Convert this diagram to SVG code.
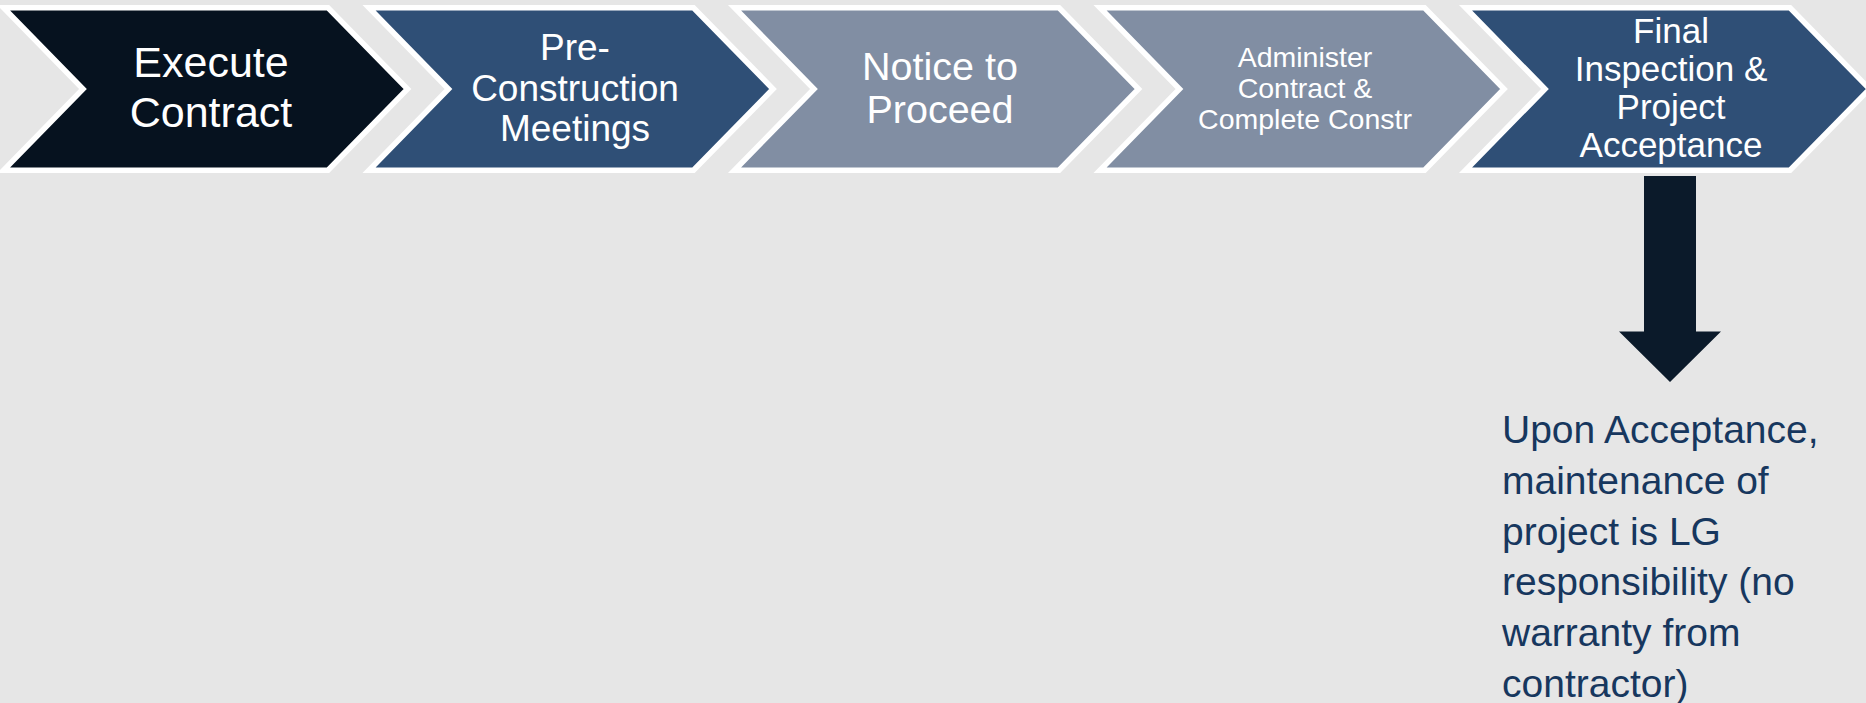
<svg xmlns="http://www.w3.org/2000/svg" width="1866" height="703" viewBox="0 0 1866 703">
<defs>
<style>
.bg{fill:#E6E6E6}
.chev{stroke:#FFFFFF;stroke-width:5.5;stroke-linejoin:miter}
.dark{fill:#06121F}
.mid{fill:#2F4F76}
.light{fill:#818EA3}
.t{font-family:"Liberation Sans",Arial,sans-serif;fill:#FFFFFF;text-anchor:middle}
.note{font-family:"Liberation Sans",Arial,sans-serif;fill:#17375E;font-size:39px}
</style>
<path id="chevShape" d="M -6.5,7.75 L 318,7.75 L 397.5,89 L 318,170.25 L -6.5,170.25 L 73,89 Z"/>
</defs>
<rect class="bg" x="0" y="0" width="1866" height="703"/>
<g id="step1">
<use href="#chevShape" class="chev dark" transform="translate(10,0)"/>
<text class="t" font-size="43"><tspan x="211" y="77">Execute</tspan><tspan x="211" y="127">Contract</tspan></text>
</g>
<g id="step2">
<use href="#chevShape" class="chev mid" transform="translate(375.5,0)"/>
<text class="t" font-size="37"><tspan x="575" y="60">Pre-</tspan><tspan x="575" y="100.5">Construction</tspan><tspan x="575" y="141">Meetings</tspan></text>
</g>
<g id="step3">
<use href="#chevShape" class="chev light" transform="translate(741,0)"/>
<text class="t" font-size="39.5"><tspan x="940" y="80">Notice to</tspan><tspan x="940" y="123">Proceed</tspan></text>
</g>
<g id="step4">
<use href="#chevShape" class="chev light" transform="translate(1106.5,0)"/>
<text class="t" font-size="28.5"><tspan x="1305" y="67">Administer</tspan><tspan x="1305" y="98">Contract &amp;</tspan><tspan x="1305" y="129">Complete Constr</tspan></text>
</g>
<g id="step5">
<use href="#chevShape" class="chev mid" transform="translate(1472,0)"/>
<text class="t" font-size="35"><tspan x="1671" y="43">Final</tspan><tspan x="1671" y="81">Inspection &amp;</tspan><tspan x="1671" y="119">Project</tspan><tspan x="1671" y="157">Acceptance</tspan></text>
</g>
<g id="connectors">
<path d="M 1644,176 L 1696,176 L 1696,331.5 L 1721,331.5 L 1670,382 L 1619,331.5 L 1644,331.5 Z" fill="#0B1A2A"/>
</g>
<g id="note">
<text class="note"><tspan x="1502" y="443">Upon Acceptance,</tspan><tspan x="1502" y="494">maintenance of</tspan><tspan x="1502" y="544.5">project is LG</tspan><tspan x="1502" y="595">responsibility (no</tspan><tspan x="1502" y="646">warranty from</tspan><tspan x="1502" y="697">contractor)</tspan></text>
</g>
</svg>
